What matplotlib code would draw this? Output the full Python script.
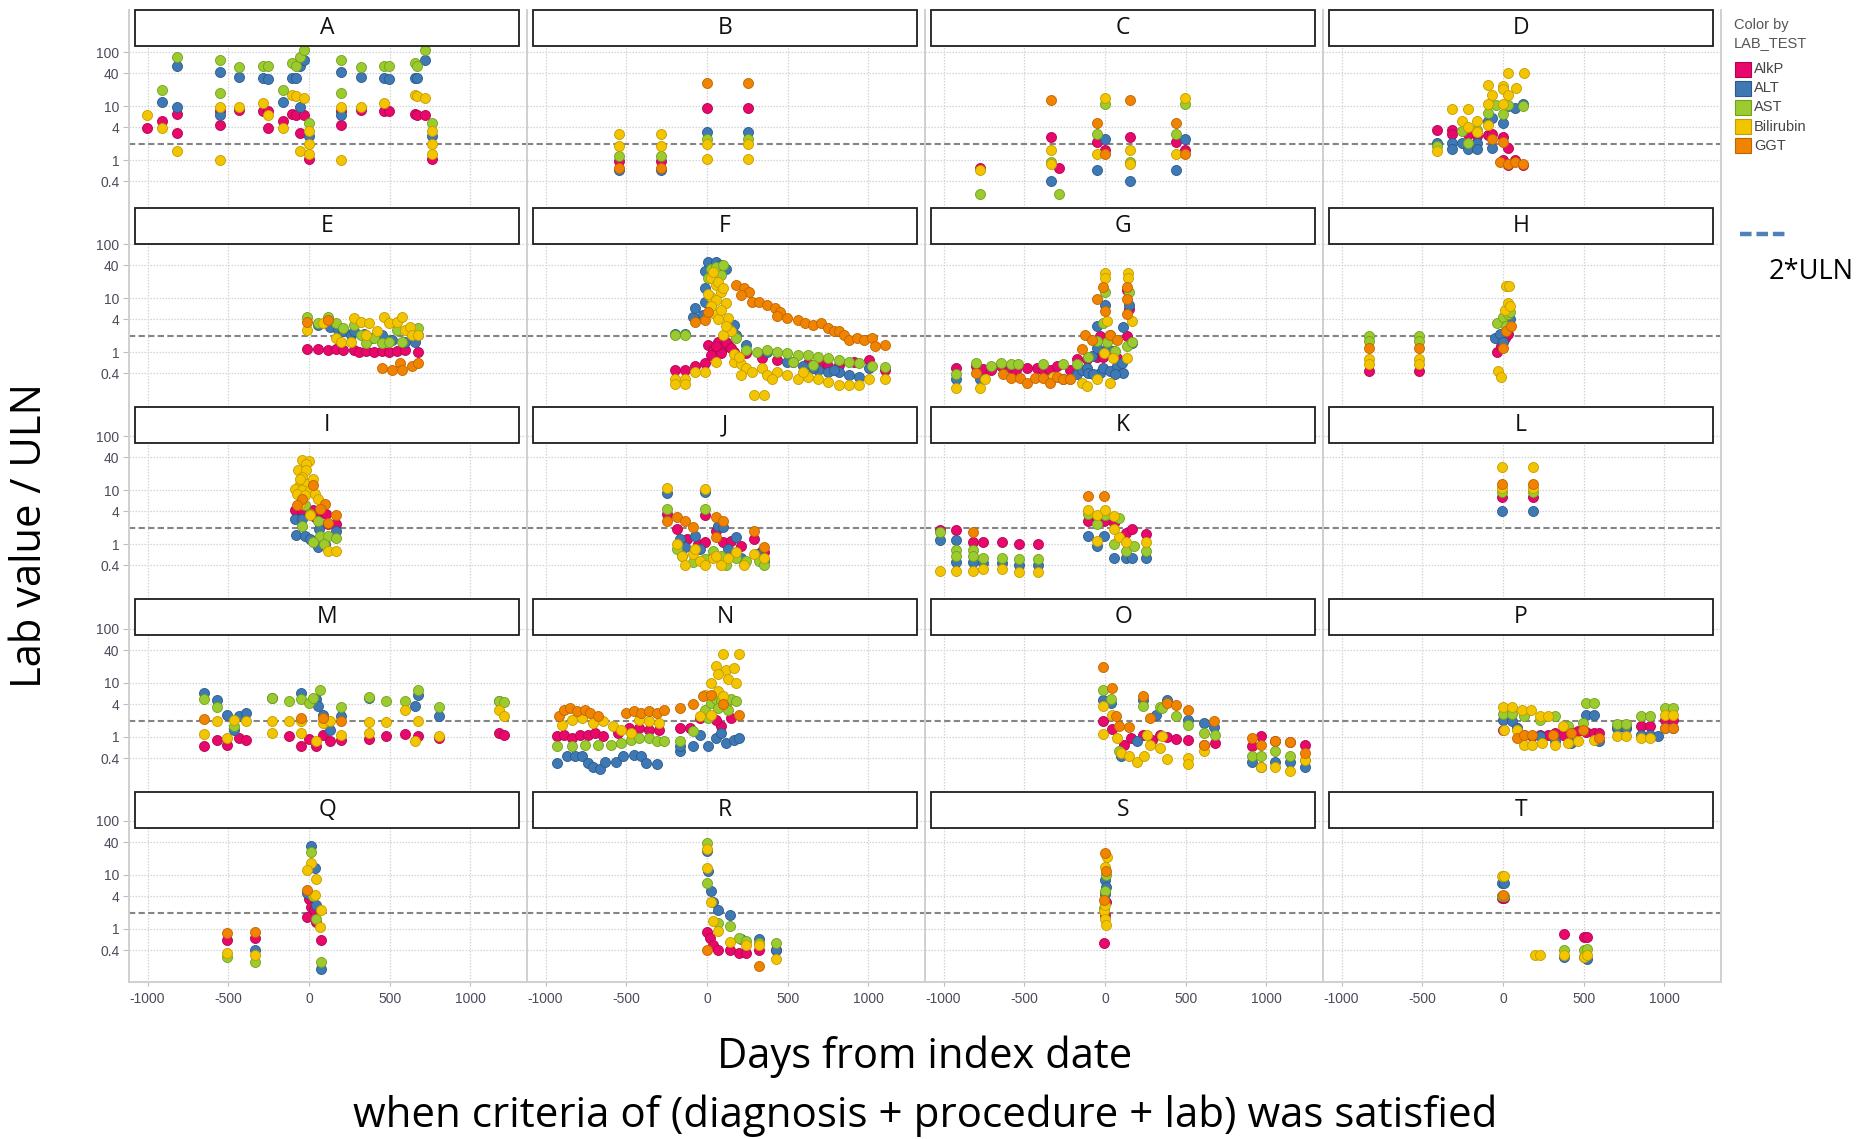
import matplotlib
matplotlib.use("Agg")
import matplotlib.pyplot as plt
from matplotlib.patches import Rectangle
from matplotlib.lines import Line2D
from matplotlib.ticker import FixedLocator, FixedFormatter, NullLocator

W, H, DPI = 1860, 1139, 100

tests = ["AlkP", "ALT", "AST", "Bilirubin", "GGT"]
test_colors = ["#e8086b", "#3e79b5", "#9bcb2f", "#f2c500", "#f08300"]
edge_colors = ["#b0064f", "#2b5a8a", "#72a01c", "#c49c00", "#bf6600"]
x_ticks = [-1000, -500, 0, 500, 1000]
x_tick_labels = ["-1000", "-500", "0", "500", "1000"]
y_ticks = [0.4, 1, 4, 10, 40, 100]
y_tick_labels = ["0.4", "1", "4", "10", "40", "100"]
uln_line = 2

# (days from index date, lab value / ULN) per lab test
panel_A = {
    "AlkP": [(-1002, 3.9), (-909, 5.3), (-815, 7.2), (-815, 3.2), (-550, 4.5), (-550, 8), (-436, 8.5), (-282, 8),
             (-255, 8), (-255, 3.9), (-160, 5.3), (-104, 7), (-79, 6.7), (-33, 6.7), (-58, 3.2), (0, 1.05), (197, 4.5),
             (197, 8), (322, 8.5), (467, 8), (498, 8), (654, 7), (668, 6.7), (720, 6.7), (762, 1.05)],
    "ALT": [(-815, 55), (-909, 11.8), (-815, 9.5), (-550, 43), (-550, 6.9), (-436, 34.5), (-282, 33), (-255, 32),
            (-160, 11.8), (-104, 33), (-79, 33), (-58, 54), (-33, 70), (-58, 9.5), (0, 2.8), (197, 43), (197, 6.9),
            (322, 34.5), (467, 33), (498, 32), (654, 33), (668, 33), (720, 70), (762, 2.8)],
    "AST": [(-815, 81), (-909, 19.5), (-550, 70), (-550, 17.6), (-436, 53), (-282, 55), (-255, 55), (-160, 19.5),
            (-104, 63), (-79, 55), (-58, 81), (-33, 107), (0, 4.9), (197, 70), (197, 17.6), (322, 53), (467, 55),
            (498, 55), (654, 63), (668, 55), (720, 107), (762, 4.9)],
    "Bilirubin": [(-1002, 6.9), (-909, 3.9), (-815, 1.48), (-550, 9.6), (-550, 1.0), (-436, 9.6), (-282, 11.5),
                  (-255, 6.9), (-160, 3.9), (-104, 16), (-79, 15), (-33, 14), (-58, 1.48), (0, 3.5), (0, 2.0),
                  (0, 1.3), (197, 9.6), (197, 1.0), (322, 9.6), (467, 11.5), (654, 16), (668, 15), (720, 14),
                  (762, 3.5), (762, 2.0), (762, 1.3)],
    "GGT": [],
}
panel_B = {
    "AlkP": [(-543, 0.95), (-286, 0.95), (0, 9.1), (252, 9.1)],
    "ALT": [(-543, 0.65), (-286, 0.65), (0, 3.3), (252, 3.3)],
    "AST": [(-543, 1.2), (-286, 1.2), (0, 2.4), (252, 2.4)],
    "Bilirubin": [(-543, 3.0), (-543, 1.8), (-286, 3.0), (-286, 1.8), (0, 2.0), (0, 1.05), (252, 2.0), (252, 1.05)],
    "GGT": [(-543, 0.72), (-286, 0.72), (0, 26.6), (252, 26.6)],
}
panel_C = {
    "AlkP": [(-775, 0.7), (-335, 2.7), (-287, 0.7), (-48, 2.2), (0, 1.5), (157, 2.7), (438, 2.2), (495, 1.5)],
    "ALT": [(-335, 0.4), (-48, 0.65), (0, 2.4), (157, 0.4), (438, 0.65), (495, 2.4)],
    "AST": [(-775, 0.23), (-335, 0.93), (-287, 0.23), (-48, 3.0), (0, 10.8), (157, 0.93), (438, 3.0), (495, 10.8)],
    "Bilirubin": [(-775, 0.65), (-335, 1.55), (-335, 0.85), (-48, 1.3), (0, 14), (157, 1.55), (157, 0.85),
                  (438, 1.3), (495, 14)],
    "GGT": [(-335, 12.8), (-48, 4.8), (0, 1.3), (157, 12.8), (438, 4.8), (495, 1.3)],
}
panel_D = {
    "AlkP": [(-409, 3.6), (-314, 3.6), (-314, 3.0), (-219, 3.0), (-162, 2.8), (-90, 2.9), (-67, 3.0), (0, 2.7),
             (29, 1.65), (0, 1.0), (29, 0.8), (76, 1.0), (124, 0.8)],
    "ALT": [(-409, 2.1), (-314, 2.1), (-314, 1.6), (-257, 2.1), (-219, 1.6), (-162, 2.1), (-162, 1.6), (-90, 5.2),
            (-67, 6.0), (0, 4.8), (29, 9.8), (76, 9.2), (124, 11), (-67, 1.65)],
    "AST": [(-409, 1.8), (-257, 3.4), (-219, 2.1), (-162, 3.6), (-90, 7.4), (0, 7.1), (29, 10.5), (124, 10),
            (-43, 10.5)],
    "Bilirubin": [(-409, 1.45), (-314, 8.8), (-219, 8.8), (-257, 5.3), (-162, 5.3), (-219, 4.0), (-90, 24), (0, 23),
                  (0, 21), (-67, 15.7), (29, 15.7), (81, 22), (33, 41), (129, 41), (-90, 11), (0, 11), (-162, 3.3),
                  (-90, 4.5)],
    "GGT": [(0, 2.2), (-19, 0.93), (29, 0.85), (76, 0.93), (124, 0.83), (-67, 2.4)],
}
panel_E = {
    "AlkP": [(-10, 1.15), (54, 1.15), (117, 1.1), (165, 1.15), (213, 1.1), (276, 1.1), (308, 1.0), (356, 1.05),
             (403, 1.0), (451, 1.05), (498, 1.0), (546, 1.05), (594, 1.1), (673, 1.0)],
    "ALT": [(54, 3.15), (133, 2.95), (181, 2.55), (213, 2.4), (260, 2.05), (276, 2.4), (340, 2.2), (387, 1.8),
            (451, 2.05), (514, 1.67), (594, 1.55), (657, 1.55), (673, 2.05)],
    "AST": [(-10, 4.5), (54, 3.4), (117, 4.5), (165, 3.4), (213, 2.75), (276, 3.15), (324, 2.05), (356, 1.45),
            (403, 1.8), (451, 1.45), (498, 1.55), (546, 2.55), (578, 1.55), (641, 2.2), (673, 2.75)],
    "Bilirubin": [(-10, 2.55), (86, 3.4), (165, 1.8), (197, 1.55), (276, 4.2), (324, 3.65), (371, 3.4), (419, 2.4),
                  (467, 4.5), (498, 3.4), (546, 3.65), (578, 4.5), (594, 2.55), (625, 2.95), (641, 2.05),
                  (673, 2.05), (260, 1.55), (356, 2.05)],
    "GGT": [(-10, 3.65), (117, 3.9), (451, 0.5), (514, 0.46), (562, 0.62), (578, 0.46), (641, 0.54), (673, 0.62)],
}
panel_F = {
    "AlkP": [(-200, 0.46), (-137, 0.46), (-73, 0.54), (-10, 0.62), (6, 1.35), (38, 1.09), (70, 1.55), (102, 1.17),
             (133, 1.35), (165, 1.01), (22, 0.88), (86, 0.94), (244, 0.94), (340, 0.76), (435, 0.71), (530, 0.66),
             (625, 0.62), (721, 0.62), (816, 0.58), (911, 0.66), (1006, 0.71), (1102, 0.46), (752, 0.54),
             (54, 1.3), (117, 1.5), (149, 1.2)],
    "ALT": [(-200, 2.2), (-137, 2.2), (-89, 4.5), (-73, 6.6), (-25, 4.8), (-10, 8.6), (-10, 15), (-10, 31), (6, 46),
            (54, 46), (86, 41), (117, 35), (165, 3.15), (181, 2.05), (244, 1.35), (371, 1.0), (498, 0.66),
            (594, 0.54), (689, 0.46), (752, 0.43), (816, 0.43), (879, 0.37), (943, 0.35), (1006, 0.5), (657, 0.5),
            (784, 0.46)],
    "AST": [(22, 35), (54, 38), (102, 41), (6, 23), (86, 27), (-200, 2.05), (-137, 2.05), (133, 2.75), (181, 1.8),
            (244, 1.09), (308, 1.01), (371, 1.09), (435, 1.01), (498, 0.94), (562, 0.88), (625, 0.88), (689, 0.82),
            (752, 0.76), (816, 0.71), (879, 0.66), (943, 0.62), (1022, 0.54), (1102, 0.52), (530, 0.66),
            (657, 0.58)],
    "Bilirubin": [(-200, 0.32), (-200, 0.26), (-137, 0.32), (-137, 0.26), (-73, 0.43), (-10, 0.43), (54, 0.66),
                  (22, 23), (54, 17.4), (22, 10.5), (86, 13), (117, 8), (38, 5.2), (70, 4), (133, 4.2), (149, 2.4),
                  (102, 2.05), (165, 0.66), (213, 0.6), (244, 0.5), (276, 0.43), (340, 0.5), (371, 0.37),
                  (435, 0.43), (498, 0.37), (562, 0.32), (625, 0.35), (689, 0.32), (752, 0.28), (816, 0.25),
                  (879, 0.25), (943, 0.25), (1006, 0.32), (1102, 0.32), (292, 0.16), (356, 0.16), (213, 0.37),
                  (403, 0.32), (594, 0.43), (38, 30), (70, 20), (102, 15), (6, 12), (86, 6), (54, 9), (22, 7),
                  (117, 3), (165, 0.9), (196, 0.8)],
    "GGT": [(-73, 3.65), (-10, 3.9), (6, 5.6), (181, 17.4), (229, 15.1), (260, 13.1), (213, 11.4), (276, 8.6),
            (324, 8.6), (371, 7.4), (419, 6.4), (451, 5.6), (435, 4.6), (498, 4.2), (562, 3.9), (610, 3.4),
            (657, 3.1), (705, 3.4), (752, 2.75), (784, 2.4), (816, 2.5), (848, 2.05), (879, 1.67), (927, 1.8),
            (975, 1.67), (1022, 1.8), (1038, 1.3), (1102, 1.35)],
}
panel_G = {
    "AlkP": [(-921, 0.51), (-797, 0.55), (-755, 0.48), (-704, 0.47), (-642, 0.55), (-580, 0.51), (-549, 0.47),
             (-486, 0.51), (-424, 0.51), (-383, 0.47), (-342, 0.47), (-300, 0.56), (-217, 0.47), (-176, 0.75),
             (-114, 0.75), (-52, 0.8), (-10, 0.8), (52, 1.04), (72, 0.76), (135, 14), (149, 6.2), (135, 2.0),
             (31, 2.05), (-31, 2.0)],
    "ALT": [(-921, 0.31), (-776, 0.31), (-259, 0.31), (-176, 0.39), (-145, 0.47), (-114, 0.51), (-83, 0.84),
            (-52, 1.2), (-31, 0.41), (-10, 0.51), (31, 0.44), (72, 0.55), (114, 0.41), (-52, 3.0), (0, 7.3),
            (149, 7.3), (114, 2.95), (166, 1.45), (10, 1.2), (-104, 0.41), (-73, 0.39), (62, 0.39), (104, 0.63)],
    "AST": [(-921, 0.39), (-797, 0.63), (-704, 0.55), (-642, 0.63), (-580, 0.6), (-538, 0.6), (-383, 0.6),
            (-259, 0.6), (-176, 0.6), (-104, 0.8), (-52, 1.6), (0, 12.9), (149, 12.9), (10, 1.5), (62, 1.04),
            (135, 1.3), (166, 1.5), (-10, 3.5)],
    "Bilirubin": [(-921, 0.22), (-776, 0.22), (-745, 0.31), (-321, 0.35), (-217, 0.31), (-145, 0.27), (-114, 0.23),
                  (-52, 0.32), (31, 0.27), (0, 29.5), (145, 29.5), (0, 23.8), (145, 23.8), (10, 3.8), (166, 3.8),
                  (-6, 0.97), (52, 0.79), (135, 0.79)],
    "GGT": [(-797, 0.41), (-632, 0.39), (-580, 0.33), (-528, 0.33), (-486, 0.27), (-435, 0.33), (-383, 0.33),
            (-342, 0.27), (-300, 0.35), (-259, 0.31), (-217, 0.31), (-145, 1.12), (-124, 2.1), (31, 2.1),
            (-52, 9.4), (135, 9.4), (-10, 16), (135, 16), (0, 5.75), (135, 5.0), (72, 1.7), (-83, 1.7)],
}
panel_H = {
    "AlkP": [(-830, 0.45), (-522, 0.45), (-40, 1.0), (-10, 1.3), (10, 1.8), (30, 2.2), (40, 3)],
    "ALT": [(-50, 1.8), (-20, 2.2), (0, 1.5), (20, 2.5), (30, 3.5), (45, 4)],
    "AST": [(-830, 2.0), (-830, 1.6), (-522, 2.0), (-522, 1.6), (-40, 3.5), (0, 4.5), (30, 5), (45, 5.5), (20, 3)],
    "Bilirubin": [(-830, 0.75), (-830, 0.6), (-522, 0.75), (-522, 0.6), (-30, 0.45), (-10, 0.35), (20, 17), (40, 17),
                  (10, 6), (30, 8), (45, 7)],
    "GGT": [(-830, 1.2), (-522, 1.2), (0, 1.2), (20, 2.5), (50, 3)],
}
panel_I = {
    "AlkP": [(-89, 4.2), (-41, 4.2), (22, 4.2), (70, 3.9), (108, 3.6), (38, 3.2), (117, 2.36), (165, 2.36)],
    "ALT": [(-89, 2.9), (-41, 2.9), (-83, 1.45), (-25, 1.4), (6, 1.24), (54, 0.87), (102, 1.0), (165, 1.77),
            (63, 1.9)],
    "AST": [(-25, 5.2), (6, 3.6), (-41, 2.2), (54, 2.7), (70, 1.43), (117, 1.43), (165, 1.28), (22, 1.07),
            (95, 1.0)],
    "Bilirubin": [(-41, 35.6), (0, 34), (-20, 30), (-66, 23.5), (-20, 23.5), (-41, 17.5), (-57, 13), (-10, 13),
                  (-89, 10.6), (-41, 9.9), (6, 9.9), (-73, 8.5), (-25, 8), (38, 8.5), (54, 6.9), (-57, 5.6),
                  (6, 3.4), (117, 0.75), (165, 0.75), (-57, 16), (22, 16)],
    "GGT": [(22, 12.2), (-41, 6.9), (-73, 5.2), (102, 5.6), (165, 3.4), (70, 4.5), (117, 2.5)],
}
panel_J = {
    "AlkP": [(-248, 3.6), (-10, 3.5), (-184, 1.9), (-121, 1.24), (-57, 1.0), (-10, 1.07), (54, 1.77), (102, 1.07),
             (149, 1.15), (213, 0.93), (292, 1.24), (340, 0.75), (356, 0.7)],
    "ALT": [(-248, 8.9), (-10, 9.2), (-168, 1.24), (-137, 0.87), (-73, 1.43), (-41, 0.81), (70, 2.2), (102, 2.04),
            (181, 1.33), (133, 0.81), (213, 0.56), (308, 0.65), (356, 0.49), (38, 0.61)],
    "AST": [(-248, 4.5), (-10, 4.5), (-184, 0.81), (-152, 0.61), (-89, 0.46), (-10, 0.53), (38, 0.75), (117, 0.4),
            (181, 0.56), (244, 0.49), (324, 0.49), (356, 0.4), (86, 0.61)],
    "Bilirubin": [(-248, 10.9), (-10, 10.6), (-184, 1.0), (-152, 0.61), (-137, 0.4), (-89, 0.65), (-41, 0.49),
                  (-10, 0.4), (38, 0.56), (86, 0.4), (133, 0.56), (181, 0.7), (229, 0.4), (292, 0.65), (356, 0.56),
                  (54, 0.61), (-73, 0.81)],
    "GGT": [(-248, 2.7), (-184, 3.2), (-137, 2.7), (54, 3.2), (102, 2.7), (-89, 2.04), (292, 1.77), (356, 0.87),
            (54, 1.33)],
}
panel_K = {
    "AlkP": [(-1025, 1.8), (-921, 1.8), (-819, 1.07), (-756, 1.07), (-640, 1.07), (-533, 1.0), (-416, 1.0),
             (-108, 2.7), (-6, 2.7), (54, 2.5), (133, 1.6), (165, 1.9), (251, 1.54), (-51, 3.1)],
    "ALT": [(-1025, 1.19), (-921, 1.19), (-921, 0.46), (-819, 0.46), (-756, 0.45), (-640, 0.45), (-533, 0.4),
            (-416, 0.4), (-108, 1.39), (-51, 0.93), (-6, 1.39), (54, 0.54), (133, 0.54), (165, 0.56), (251, 0.54)],
    "AST": [(-1025, 1.65), (-921, 0.77), (-921, 0.59), (-819, 0.77), (-819, 0.59), (-756, 0.56), (-640, 0.56),
            (-533, 0.53), (-416, 0.53), (-108, 3.6), (-51, 2.36), (0, 3.5), (86, 3.0), (54, 1.0), (133, 0.75),
            (181, 0.93), (251, 0.75)],
    "Bilirubin": [(-1025, 0.32), (-921, 0.32), (-819, 0.32), (-756, 0.35), (-640, 0.35), (-533, 0.3), (-416, 0.3),
                  (-108, 4.3), (-51, 3.5), (0, 4.3), (54, 3.3), (-51, 1.15), (86, 1.33), (133, 1.07), (251, 1.07),
                  (54, 1.9)],
    "GGT": [(-819, 1.65), (-108, 7.9), (-6, 7.9)],
}
panel_L = {
    "AlkP": [(-6, 7.3), (188, 7.3)],
    "ALT": [(-6, 4.0), (188, 4.0)],
    "AST": [(-6, 9.2), (188, 9.2)],
    "Bilirubin": [(-6, 27), (188, 27), (-6, 11), (188, 11)],
    "GGT": [(-6, 12.7), (188, 12.7)],
}
panel_M = {
    "AlkP": [(-651, 0.69), (-572, 0.87), (-511, 0.71), (-432, 0.96), (-391, 0.87), (-127, 1.06), (-48, 0.69),
             (-3, 0.92), (86, 1.1), (44, 0.69), (133, 0.83), (197, 0.89), (371, 0.92), (476, 1.06), (594, 1.15),
             (673, 1.06), (806, 0.94), (1175, 1.19), (1207, 1.08)],
    "ALT": [(-651, 6.4), (-572, 4.9), (-511, 2.6), (-432, 2.4), (-391, 2.8), (-464, 1.37), (-232, 5.3), (-48, 6.6),
            (44, 4.96), (54, 3.7), (86, 2.6), (197, 2.4), (133, 1.37), (371, 5.3), (673, 6.1), (657, 3.7),
            (806, 2.5), (1175, 4.6)],
    "AST": [(-651, 5.0), (-572, 3.6), (-464, 1.58), (-232, 5.3), (-127, 4.7), (-48, 4.96), (-3, 4.3), (70, 7.4),
            (22, 5.3), (197, 3.6), (371, 5.4), (476, 4.7), (594, 4.7), (673, 7.4), (806, 3.6), (1175, 4.7),
            (1207, 4.5)],
    "Bilirubin": [(-651, 1.14), (-572, 1.96), (-511, 0.96), (-464, 2.1), (-391, 1.96), (-232, 1.96), (-232, 1.19),
                  (-127, 1.96), (-48, 1.96), (-48, 1.19), (44, 0.83), (86, 1.82), (133, 1.96), (197, 1.1),
                  (371, 1.9), (371, 1.19), (476, 1.9), (594, 3.2), (673, 1.96), (657, 0.83), (806, 1.03),
                  (1175, 3.1), (1207, 2.5)],
    "GGT": [(-651, 2.2), (-48, 2.26), (86, 2.26), (197, 1.96)],
}
panel_N = {
    "AlkP": [(-930, 1.03), (-883, 1.1), (-835, 0.96), (-787, 1.1), (-740, 1.1), (-692, 1.19), (-645, 1.03),
             (-549, 1.19), (-486, 1.47), (-422, 1.47), (-359, 1.37), (-295, 1.37), (-168, 1.47), (-105, 1.47),
             (-41, 2.26), (22, 2.4), (86, 1.58), (149, 2.26), (54, 2.1)],
    "ALT": [(-930, 0.33), (-867, 0.44), (-819, 0.44), (-772, 0.44), (-740, 0.33), (-708, 0.28), (-660, 0.26),
            (-629, 0.35), (-565, 0.35), (-518, 0.44), (-454, 0.47), (-406, 0.44), (-375, 0.33), (-311, 0.32),
            (-168, 0.54), (-168, 0.67), (-89, 0.67), (-41, 1.1), (6, 0.67), (54, 0.96), (86, 1.19), (117, 0.77),
            (165, 0.89), (197, 0.96)],
    "AST": [(-930, 0.67), (-835, 0.67), (-756, 0.72), (-676, 0.72), (-597, 0.72), (-533, 0.77), (-470, 0.89),
            (-422, 0.96), (-359, 0.96), (-311, 0.83), (-264, 0.86), (-168, 0.83), (-89, 1.28), (-10, 3.2),
            (22, 4.3), (54, 4.96), (86, 4.6), (117, 4.0), (149, 4.96), (181, 4.6), (70, 3.46), (133, 3.2),
            (6, 2.26)],
    "Bilirubin": [(-899, 1.7), (-835, 2.1), (-772, 2.26), (-708, 1.82), (-645, 1.96), (-581, 1.58), (-533, 1.37),
                  (-470, 1.19), (-422, 2.1), (-359, 1.96), (-295, 1.82), (102, 34), (197, 34), (54, 20.7),
                  (117, 17.5), (165, 19.2), (70, 14.5), (133, 11.7), (22, 10), (181, 10), (70, 7.1), (-10, 6.1),
                  (102, 5.7), (-41, 2.4), (22, 2.6)],
    "GGT": [(-914, 2.4), (-883, 3.2), (-851, 3.46), (-803, 3.0), (-756, 3.2), (-724, 2.8), (-676, 2.4), (-502, 2.8),
            (-454, 3.0), (-406, 2.8), (-359, 3.0), (-311, 2.8), (-264, 3.2), (-168, 3.46), (-89, 4.0), (-25, 5.7),
            (22, 6.1), (102, 4.0), (197, 2.6)],
}
panel_O = {
    "AlkP": [(-10, 1.96), (44, 1.41), (159, 0.96), (235, 1.1), (292, 0.89), (340, 1.1), (387, 1.0), (441, 0.92),
             (514, 0.87), (616, 0.72), (680, 0.77), (911, 0.69), (965, 1.03), (1054, 0.83), (1149, 0.81),
             (1238, 0.72), (117, 0.72)],
    "ALT": [(-10, 4.75), (38, 4.3), (102, 0.44), (197, 0.83), (235, 4.75), (314, 2.6), (387, 4.8), (514, 2.1),
            (616, 1.82), (673, 1.54), (911, 0.35), (965, 0.28), (1054, 0.35), (1149, 0.35), (1238, 0.28)],
    "AST": [(-10, 7.3), (38, 5.1), (86, 0.56), (235, 3.7), (340, 3.6), (441, 2.5), (514, 1.7), (616, 1.19),
            (680, 1.1), (911, 0.45), (965, 0.44), (1054, 0.54), (1149, 0.44), (1238, 0.38), (356, 3.4)],
    "Bilirubin": [(-10, 3.7), (44, 2.6), (-10, 1.14), (76, 0.96), (102, 0.5), (149, 0.44), (197, 0.35), (244, 0.44),
                  (276, 0.72), (340, 0.62), (387, 0.39), (514, 0.41), (514, 0.32), (616, 0.54), (965, 0.28),
                  (1054, 0.28), (1149, 0.23), (1238, 0.38), (260, 1.1), (356, 1.03)],
    "GGT": [(-10, 19.8), (44, 8.2), (86, 1.62), (149, 1.54), (235, 5.7), (276, 2.26), (387, 4.3), (441, 3.9),
            (514, 3.1), (673, 2.0), (616, 0.72), (911, 0.96), (965, 0.72), (1054, 0.83), (1149, 0.8), (1238, 0.5),
            (70, 2.4)],
}
panel_P = {
    "AlkP": [(0, 1.37), (86, 1.47), (181, 1.03), (229, 1.1), (276, 1.1), (324, 1.19), (371, 1.1), (419, 1.23),
             (467, 1.28), (514, 1.23), (562, 1.19), (594, 1.19), (705, 1.47), (759, 1.47), (854, 1.63), (911, 1.63),
             (1006, 2.05), (1054, 2.05)],
    "ALT": [(0, 2.1), (54, 1.96), (86, 1.47), (133, 1.1), (229, 1.03), (324, 0.83), (419, 0.77), (514, 2.6),
            (562, 2.6), (594, 0.83), (705, 1.47), (759, 1.47), (854, 1.1), (911, 1.1), (959, 1.03), (1006, 1.47),
            (1054, 1.47)],
    "AST": [(0, 2.7), (54, 2.7), (133, 2.5), (229, 2.1), (324, 2.4), (514, 4.2), (562, 4.2), (705, 1.77),
            (759, 1.77), (854, 2.4), (911, 2.4), (1006, 3.46), (1054, 3.46), (403, 1.58), (498, 1.82)],
    "Bilirubin": [(0, 3.6), (54, 3.6), (117, 3.1), (175, 3.1), (229, 2.4), (6, 1.37), (86, 1.37), (133, 0.72),
                  (181, 0.72), (244, 0.77), (324, 0.72), (403, 0.77), (467, 0.83), (562, 0.89), (705, 1.03),
                  (759, 1.03), (854, 0.96), (911, 0.96), (1006, 2.6), (1054, 2.6), (371, 1.58), (276, 2.4)],
    "GGT": [(86, 0.96), (133, 1.1), (181, 1.1), (308, 1.1), (419, 1.19), (498, 1.37), (594, 0.96), (1006, 1.47),
            (1054, 1.47)],
}
panel_Q = {
    "AlkP": [(-511, 0.62), (-337, 0.69), (0, 3.6), (13, 2.6), (29, 2.26), (-10, 1.7), (44, 1.37), (76, 0.62)],
    "ALT": [(-337, 0.41), (13, 35), (38, 13.5), (-10, 4.7), (44, 2.8), (76, 0.18)],
    "AST": [(-511, 0.3), (-337, 0.24), (13, 26.5), (22, 4.0), (44, 1.5), (76, 0.24)],
    "Bilirubin": [(-511, 0.36), (-337, 0.33), (13, 16.7), (-10, 12.3), (44, 8.4), (38, 4.3), (76, 2.26), (70, 1.1)],
    "GGT": [(-511, 0.85), (-337, 0.89), (-10, 5.3)],
}
panel_R = {
    "AlkP": [(0, 0.89), (16, 0.67), (38, 0.5), (70, 0.41), (143, 0.41), (197, 0.36), (244, 0.36), (324, 0.41),
             (429, 0.41)],
    "ALT": [(0, 28), (6, 11.7), (22, 5.0), (38, 3.2), (70, 2.26), (143, 1.8), (324, 0.64), (429, 0.41), (213, 0.64)],
    "AST": [(0, 39.5), (0, 7.1), (70, 1.27), (143, 1.14), (197, 0.67), (244, 0.6), (324, 0.54), (429, 0.54)],
    "Bilirubin": [(0, 30), (0, 13.5), (22, 3.2), (38, 1.43), (70, 0.93), (143, 0.58), (244, 0.5), (429, 0.28),
                  (324, 0.5)],
    "GGT": [(0, 0.41), (324, 0.21)],
}
panel_S = {
    "AlkP": [(-5, 0.55), (0, 1.8), (5, 3.2)],
    "ALT": [(0, 8), (5, 6), (0, 4.5)],
    "AST": [(5, 10), (0, 5), (-5, 2.5)],
    "Bilirubin": [(10, 22), (0, 14), (-5, 2.2), (0, 1.5), (5, 1.2), (0, 2.8)],
    "GGT": [(0, 26), (5, 12), (-5, 3.5)],
}
panel_T = {
    "AlkP": [(-5, 3.7), (5, 3.7), (375, 0.8), (500, 0.7), (520, 0.7)],
    "ALT": [(-5, 7), (5, 7), (-5, 4), (375, 0.3), (500, 0.3), (520, 0.28)],
    "AST": [(-5, 4), (5, 4), (375, 0.4), (500, 0.4), (520, 0.42)],
    "Bilirubin": [(-5, 9.5), (5, 9.5), (200, 0.33), (230, 0.33), (375, 0.33), (500, 0.3), (520, 0.33)],
    "GGT": [(0, 4.2)],
}

panels = [("A", panel_A), ("B", panel_B), ("C", panel_C), ("D", panel_D),
          ("E", panel_E), ("F", panel_F), ("G", panel_G), ("H", panel_H),
          ("I", panel_I), ("J", panel_J), ("K", panel_K), ("L", panel_L),
          ("M", panel_M), ("N", panel_N), ("O", panel_O), ("P", panel_P),
          ("Q", panel_Q), ("R", panel_R), ("S", panel_S), ("T", panel_T)]

# layout, in pixels of the 1860x1139 canvas
col_left, col_w = 129, 398
zero_px = 180                      # day 0 sits this far from the panel's left edge
px_per_day = 80.7 / 500
px_per_dec = 54
row_y100 = [52, 244, 436, 629, 821]  # where the 100 gridline sits in each row
row_top = [10, 208, 407, 599, 792]   # top of the header strip in each row
plot_bottom = 982

tick_color = "#4b4b5b"
grid_color = "#d4d4d4"
frame_color = "#cfcfcf"

fig = plt.figure(figsize=(W / DPI, H / DPI), dpi=DPI)


def fx(px):
    return px / W


def fy(py):
    return 1 - py / H


xlim = (-zero_px / px_per_day, (col_w - zero_px) / px_per_day)

for k, (name, data) in enumerate(panels):
    r, c = divmod(k, 4)
    top = row_top[r]
    bottom = row_top[r + 1] if r < 4 else plot_bottom
    left = col_left + c * col_w
    ax = fig.add_axes([fx(left), fy(bottom), col_w / W, (bottom - top) / H])
    ax.set_yscale("log")
    ax.set_xlim(*xlim)
    y100 = row_y100[r]
    ax.set_ylim(100 * 10 ** (-(bottom - y100) / px_per_dec), 100 * 10 ** ((y100 - top) / px_per_dec))

    ax.xaxis.set_major_locator(FixedLocator(x_ticks))
    ax.xaxis.set_minor_locator(NullLocator())
    ax.yaxis.set_major_locator(FixedLocator(y_ticks))
    ax.yaxis.set_minor_locator(NullLocator())
    ax.grid(True, color=grid_color, linestyle=(0, (1.2, 1.2)), linewidth=0.9)
    ax.set_axisbelow(True)

    for side in ["top", "right", "bottom", "left"]:
        ax.spines[side].set_visible(False)
    ax.spines["left"].set_visible(True)
    ax.spines["left"].set_color(frame_color)
    ax.spines["left"].set_linewidth(1.4)
    if c == 3:
        ax.spines["right"].set_visible(True)
        ax.spines["right"].set_color(frame_color)
        ax.spines["right"].set_linewidth(1.4)
    if r == 4:
        ax.spines["bottom"].set_visible(True)
        ax.spines["bottom"].set_color(frame_color)
        ax.spines["bottom"].set_linewidth(1.4)

    if c == 0:
        ax.yaxis.set_major_formatter(FixedFormatter(y_tick_labels))
        ax.tick_params(axis="y", length=4, color="#bdbdbd", labelsize=10, labelcolor=tick_color, pad=3)
    else:
        ax.tick_params(axis="y", length=0, labelleft=False)
    if r == 4:
        ax.xaxis.set_major_formatter(FixedFormatter(x_tick_labels))
        ax.tick_params(axis="x", length=3, color="#bdbdbd", labelsize=10, labelcolor=tick_color, pad=4)
    else:
        ax.tick_params(axis="x", length=0, labelbottom=False)
    for lab in ax.get_xticklabels() + ax.get_yticklabels():
        lab.set_fontfamily("Liberation Sans")

    ax.axhline(uln_line, color="#858585", linewidth=1.5, dashes=(3, 1.6), zorder=1.5)

    for t, col, ec in zip(tests, test_colors, edge_colors):
        pts = data[t]
        if not pts:
            continue
        xs = [p[0] for p in pts]
        ys = [p[1] for p in pts]
        ax.scatter(xs, ys, s=52, color=col, edgecolors=ec, linewidths=0.6, zorder=2, clip_on=True)

    # header strip with the panel letter
    box_y = row_top[r]
    fig.add_artist(Rectangle((fx(left + 6), fy(box_y + 36)), 384 / W, 36 / H, transform=fig.transFigure,
                             facecolor="white", edgecolor="#1e1e1e", linewidth=1.3, zorder=5))
    fig.text(fx(left + 6 + 192), fy(box_y + 18), name, ha="center", va="center", fontsize=16.5,
             family="Open Sans", color="#111111", zorder=6)

# axis titles
fig.text(fx(30), fy(536), "Lab value / ULN", rotation=90, ha="center", va="center",
         fontsize=30, family="Open Sans", color="black")
fig.text(fx(925), fy(1057), "Days from index date", ha="center", va="center",
         fontsize=30, family="Open Sans", color="black")
fig.text(fx(925), fy(1116), "when criteria of (diagnosis + procedure + lab) was satisfied", ha="center",
         va="center", fontsize=30.3, family="Open Sans", color="black")

# colour legend
fig.text(fx(1734), fy(25), "Color by", ha="left", va="center", fontsize=10.5,
         family="Liberation Sans", color="#555555")
fig.text(fx(1734), fy(43), "LAB_TEST", ha="left", va="center", fontsize=10.5,
         family="Liberation Sans", color="#555555")
for i, (t, col, ec) in enumerate(zip(tests, test_colors, edge_colors)):
    yc = 69 + i * 19.2
    fig.add_artist(Rectangle((fx(1735), fy(yc + 7.5)), 16 / W, 15 / H, transform=fig.transFigure,
                             facecolor=col, edgecolor=ec, linewidth=0.8))
    fig.text(fx(1754), fy(yc), t, ha="left", va="center", fontsize=10.5,
             family="Liberation Sans", color="#444444")

fig.add_artist(Line2D([fx(1740), fx(1786)], [fy(234), fy(234)], transform=fig.transFigure,
                      color="#4f81bd", linewidth=3.2, dashes=(2.6, 1.1)))
fig.text(fx(1769), fy(272), "2*ULN", ha="left", va="center", fontsize=19.5,
         family="Open Sans", color="black")

fig.savefig("out.png", dpi=DPI)
